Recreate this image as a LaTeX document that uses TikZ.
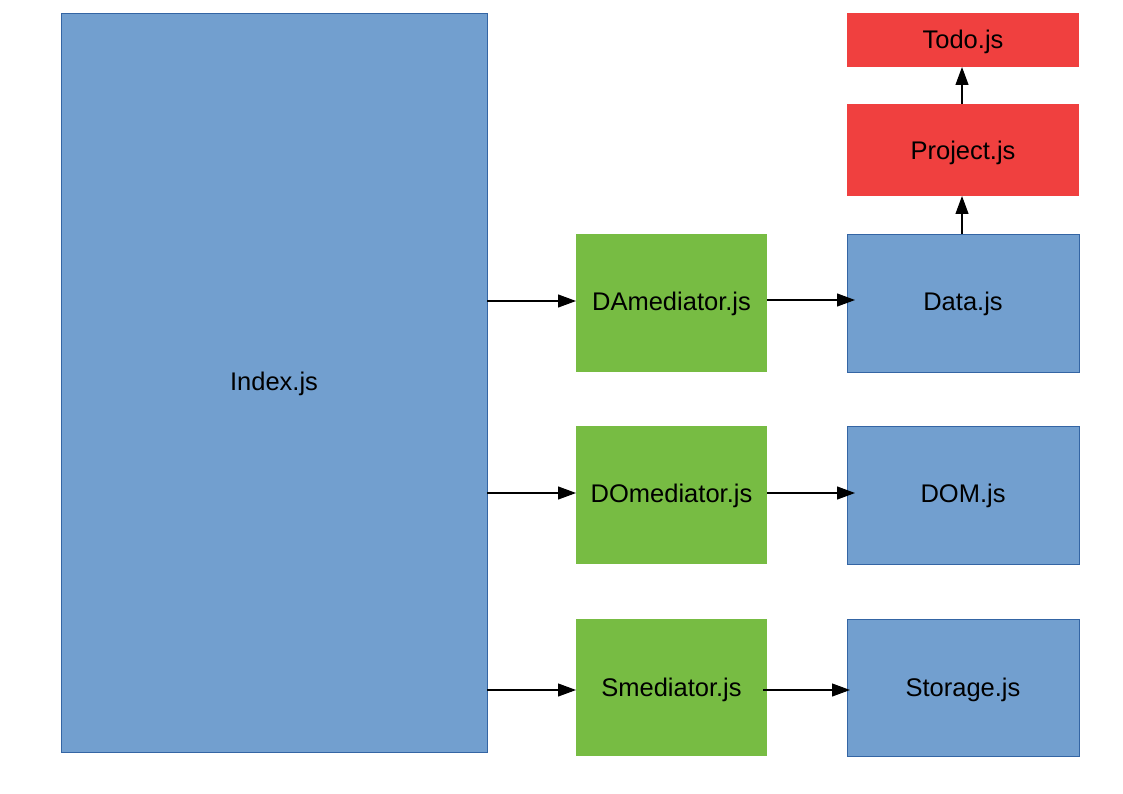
\documentclass[tikz,border=0pt]{standalone}
\usepackage{fontspec}
\setmainfont{Liberation Sans}
\usetikzlibrary{arrows.meta}
\definecolor{bluefill}{HTML}{729FCF}
\definecolor{blueline}{HTML}{3465A4}
\definecolor{greenfill}{HTML}{77BC43}
\definecolor{redfill}{HTML}{F0403F}
\begin{document}
\begin{tikzpicture}[x=1pt,y=-1pt,
  bluebox/.style={fill=bluefill,draw=blueline,line width=0.8pt},
  greenbox/.style={fill=greenfill},
  redbox/.style={fill=redfill},
  lbl/.style={font=\fontsize{25.5}{30}\selectfont},
  conn/.style={-{Triangle[length=18pt,width=13pt]},line width=1.1pt}]
\useasboundingbox (0,0) rectangle (1123,794);
\path[bluebox] (61,13) rectangle (487,752);
\node[lbl] (index) at (274,384) {Index.js};
\coordinate (indexE1) at (487,301);
\coordinate (indexE2) at (487,493);
\coordinate (indexE3) at (487,690);
\path[greenbox] (576,234) rectangle (767,372);
\node[lbl] (dam) at (671.5,304) {DAmediator.js};
\path[greenbox] (576,426) rectangle (767,564);
\node[lbl] (dom) at (671.5,496) {DOmediator.js};
\path[greenbox] (576,619) rectangle (767,756);
\node[lbl] (sm) at (671.5,690) {Smediator.js};
\path[bluebox] (847,234) rectangle (1079,372);
\node[lbl] (data) at (963,304) {Data.js};
\path[bluebox] (847,426) rectangle (1079,564);
\node[lbl] (domjs) at (963,496) {DOM.js};
\path[bluebox] (847,619) rectangle (1079,756);
\node[lbl] (storage) at (963,690) {Storage.js};
\path[redbox] (847,104) rectangle (1079,196);
\node[lbl] (project) at (963,153) {Project.js};
\path[redbox] (847,13) rectangle (1079,67);
\node[lbl] (todo) at (963,42) {Todo.js};
\coordinate (damW) at (576,301);
\coordinate (domW) at (576,493);
\coordinate (smW) at (576,690);
\coordinate (damE) at (767,300);
\coordinate (domE) at (767,493);
\coordinate (smE) at (763,690);
\coordinate (dataW) at (855,300);
\coordinate (domjsW) at (855,493);
\coordinate (storageW) at (850,690);
\coordinate (dataN) at (962,234);
\coordinate (projectS) at (962,196);
\coordinate (projectN) at (962,104);
\coordinate (todoS) at (962,67);
\draw[conn] (indexE1) -- (damW);
\draw[conn] (indexE2) -- (domW);
\draw[conn] (indexE3) -- (smW);
\draw[conn] (damE) -- (dataW);
\draw[conn] (domE) -- (domjsW);
\draw[conn] (smE) -- (storageW);
\draw[conn] (dataN) -- (projectS);
\draw[conn] (projectN) -- (todoS);
\end{tikzpicture}
\end{document}
